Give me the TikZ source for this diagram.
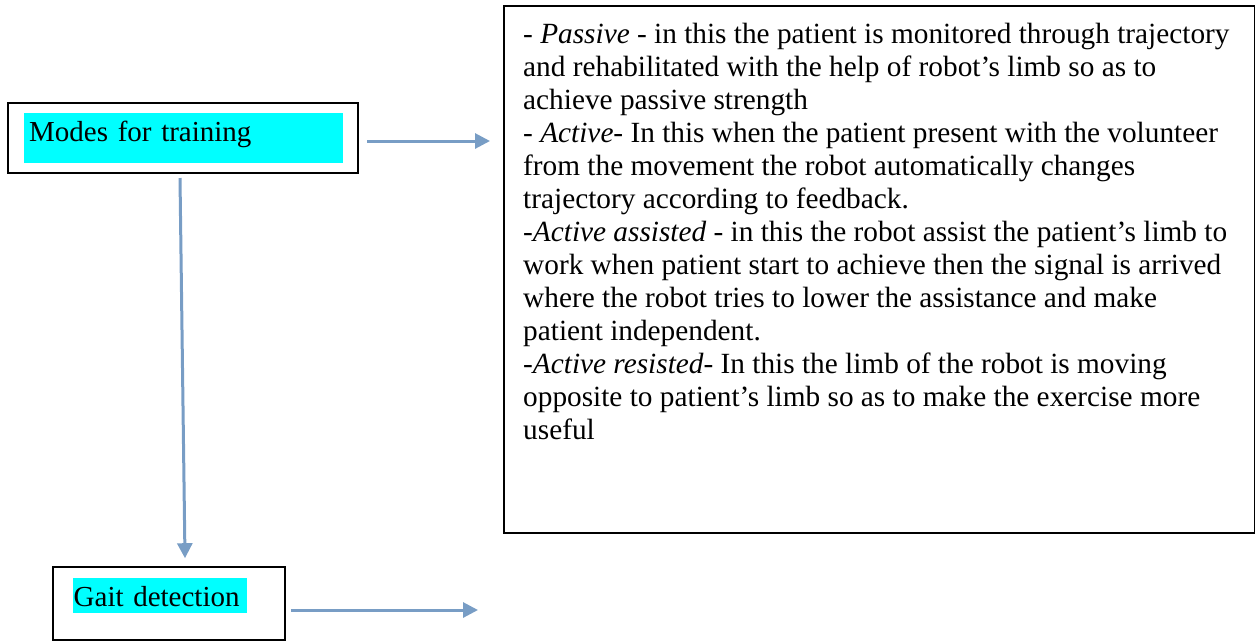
\documentclass[tikz,border=0pt]{standalone}
\usepackage{fontspec}
\setmainfont{Liberation Serif}
\usetikzlibrary{arrows.meta,calc}
\definecolor{arrowblue}{RGB}{120,157,197}
\definecolor{hlcyan}{RGB}{0,255,255}
\tikzset{
  frame/.style={draw=black, line width=2pt, inner sep=0pt},
  hl/.style={fill=hlcyan, inner sep=0pt, anchor=base west, font=\fontsize{29pt}{31pt}\selectfont},
  flow/.style={draw=arrowblue, line width=3pt, -{Triangle[length=15pt,width=15pt]}},
  body/.style={anchor=north west, inner sep=0pt, align=left, font=\fontsize{29.3pt}{33pt}\selectfont}
}
\begin{document}
\begin{tikzpicture}[x=1pt,y=-1pt]
\useasboundingbox (0,0) rectangle (1255,641);
% boxes
\node[frame, minimum width=350pt, minimum height=70pt] (modes) at (183,138) {};
\node[frame, line width=1.6pt, minimum width=232pt, minimum height=73pt] (gait) at (169,603.5) {};
\node[frame, minimum width=751pt, minimum height=527pt, anchor=north west] (info) at (503,5) {};
% highlighted labels
\node[hl, text width=309pt, text height=28pt, text depth=22pt, inner xsep=5pt] (modeslbl) at (24,141) {Modes for training};
\node[hl, text width=173pt, text height=28pt, text depth=7pt, inner xsep=0.5pt] (gaitlbl) at (73,606) {Gait detection};
% description text
\node[body] (infotext) at (523,23) {%
- \textit{Passive} - in this the patient is monitored through trajectory\\
and rehabilitated with the help of robot’s limb so as to\\
achieve passive strength\\
- \textit{Active}- In this when the patient present with the volunteer\\
from the movement the robot automatically changes\\
trajectory according to feedback.\\
-\textit{Active assisted} - in this the robot assist the patient’s limb to\\
work when patient start to achieve then the signal is arrived\\
where the robot tries to lower the assistance and make\\
patient independent.\\
-\textit{Active resisted}- In this the limb of the robot is moving\\
opposite to patient’s limb so as to make the exercise more\\
useful};
% connector ends
\coordinate (modesend) at (490,141);
\coordinate (gaitend) at (478,610);
% connectors
\draw[flow] ($(modes.east)+(8,3)$) -- (modesend);
\draw[flow] ($(modes.south)+(-3,4)$) -- ($(gait.north)+(16,-8)$);
\draw[flow] ($(gait.east)+(5,6.5)$) -- (gaitend);
\end{tikzpicture}
\end{document}
